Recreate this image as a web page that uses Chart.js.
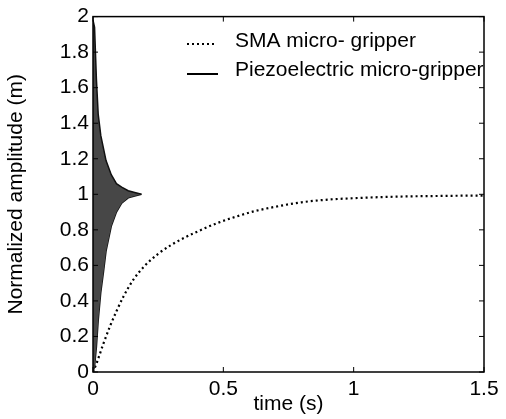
<!DOCTYPE html>
<html>
<head>
<meta charset="utf-8">
<script src="https://cdn.jsdelivr.net/npm/chart.js@4"></script>
<style>
  html, body { margin: 0; padding: 0; background: #fff; }
  #wrap { width: 506px; height: 419px; }
</style>
</head>
<body>
<div id="wrap"><canvas id="ampChart" width="506" height="419"></canvas></div>
<script>
// SMA micro-gripper step response
const smaTime = [0, 0.014, 0.04, 0.066, 0.091, 0.117, 0.155, 0.2, 0.25, 0.3, 0.35, 0.4, 0.48, 0.55, 0.62, 0.7, 0.8, 0.9, 1.0, 1.1, 1.2, 1.3, 1.4, 1.5];
const smaAmp  = [0, 0.05, 0.16, 0.26, 0.345, 0.425, 0.52, 0.6, 0.665, 0.715, 0.755, 0.79, 0.84, 0.875, 0.905, 0.93, 0.955, 0.97, 0.978, 0.984, 0.988, 0.99, 0.992, 0.993];

// Piezoelectric micro-gripper: envelope of the fast decaying oscillation
const piezoTime  = [0, 0.006, 0.013, 0.02, 0.03, 0.04, 0.05, 0.07, 0.09, 0.11, 0.135, 0.16, 0.186];
const piezoUpper = [1.98, 1.94, 1.65, 1.45, 1.33, 1.26, 1.19, 1.11, 1.06, 1.04, 1.02, 1.01, 1.0];
const piezoLower = [0, 0.03, 0.14, 0.29, 0.45, 0.56, 0.68, 0.82, 0.90, 0.95, 0.98, 0.99, 1.0];

const xTicks = [0, 0.5, 1, 1.5];
const yTicks = [0, 0.2, 0.4, 0.6, 0.8, 1, 1.2, 1.4, 1.6, 1.8, 2];

const legendItems = ['SMA micro- gripper', 'Piezoelectric micro-gripper'];

const FONT = "'Liberation Sans', Arial, Helvetica, sans-serif";

function pts(xs, ys) {
    return xs.map((x, i) => ({ x: x, y: ys[i] }));
}

// box + inward ticks (matlab style) + legend
const framePlugin = {
    id: 'frame',
    afterDraw(chart) {
        const ctx = chart.ctx;
        const a = chart.chartArea;
        const xs = chart.scales.x, ys = chart.scales.y;
        ctx.save();
        ctx.strokeStyle = '#000';
        ctx.lineWidth = 1.5;
        ctx.strokeRect(a.left, a.top, a.right - a.left, a.bottom - a.top);

        ctx.lineWidth = 1;
        const tl = 5;
        ctx.beginPath();
        xTicks.forEach(v => {
            const px = xs.getPixelForValue(v);
            ctx.moveTo(px, a.bottom); ctx.lineTo(px, a.bottom - tl);
            ctx.moveTo(px, a.top); ctx.lineTo(px, a.top + tl);
        });
        yTicks.forEach(v => {
            const py = ys.getPixelForValue(v);
            ctx.moveTo(a.left, py); ctx.lineTo(a.left + tl, py);
            ctx.moveTo(a.right, py); ctx.lineTo(a.right - tl, py);
        });
        ctx.stroke();

        // legend
        ctx.font = '21px ' + FONT;
        ctx.fillStyle = '#000';
        ctx.textBaseline = 'middle';
        ctx.strokeStyle = '#000';

        ctx.lineWidth = 2;
        ctx.setLineDash([2, 3]);
        ctx.beginPath();
        ctx.moveTo(187, 44); ctx.lineTo(216, 44);
        ctx.stroke();
        ctx.setLineDash([]);
        ctx.beginPath();
        ctx.moveTo(187, 74); ctx.lineTo(218, 74);
        ctx.stroke();

        ctx.fillText(legendItems[0], 235, 41);
        ctx.fillText(legendItems[1], 235, 70);
        ctx.restore();
    }
};

function initChart() {
    const ctx = document.getElementById('ampChart').getContext('2d');
    new Chart(ctx, {
        type: 'line',
        data: {
            datasets: [
                {
                    label: 'Piezo upper',
                    data: pts(piezoTime, piezoUpper),
                    borderColor: '#111',
                    backgroundColor: '#474747',
                    borderWidth: 1.5,
                    pointRadius: 0,
                    tension: 0,
                    fill: '+1'
                },
                {
                    label: 'Piezo lower',
                    data: pts(piezoTime, piezoLower),
                    borderColor: '#111',
                    borderWidth: 1.5,
                    pointRadius: 0,
                    tension: 0,
                    fill: false
                },
                {
                    label: legendItems[0],
                    data: pts(smaTime, smaAmp),
                    borderColor: '#000',
                    borderWidth: 2.2,
                    borderDash: [2, 3],
                    pointRadius: 0,
                    cubicInterpolationMode: 'monotone',
                    fill: false
                }
            ]
        },
        options: {
            responsive: false,
            animation: false,
            events: [],
            layout: { padding: { top: 13, right: 22, left: 0, bottom: 0 } },
            plugins: {
                legend: { display: false },
                tooltip: { enabled: false }
            },
            scales: {
                x: {
                    type: 'linear',
                    min: 0, max: 1.5,
                    afterBuildTicks: s => { s.ticks = xTicks.map(v => ({ value: v })); },
                    afterFit: s => { s.height = 47; },
                    grid: { display: false, drawTicks: false },
                    border: { display: false },
                    ticks: { color: '#000', padding: 5, font: { family: FONT, size: 21 }, maxRotation: 0, callback: v => String(v) },
                    title: { display: true, text: 'time (s)', color: '#000', padding: { top: 0, bottom: 2 }, font: { family: FONT, size: 21 } }
                },
                y: {
                    min: 0, max: 2,
                    afterBuildTicks: s => { s.ticks = yTicks.map(v => ({ value: v })); },
                    afterFit: s => { s.width = 93; },
                    grid: { display: false, drawTicks: false },
                    border: { display: false },
                    ticks: { color: '#000', padding: 4, font: { family: FONT, size: 21 }, callback: v => String(v) },
                    title: { display: true, text: 'Normalized amplitude (m)', color: '#000', padding: { top: 4, bottom: 0 }, font: { family: FONT, size: 21 } }
                }
            }
        },
        plugins: [framePlugin]
    });
}

window.onload = initChart;
</script>
</body>
</html>
